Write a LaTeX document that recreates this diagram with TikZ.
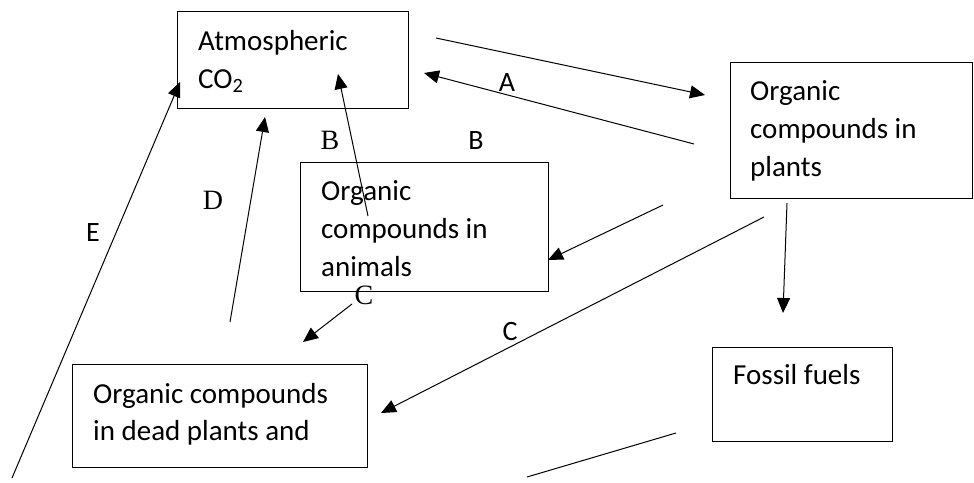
\documentclass[tikz,border=0pt]{standalone}
\usepackage{fontspec}
\setmainfont{Carlito}
\newfontfamily\seriflbl{Liberation Serif}
\usetikzlibrary{arrows.meta}
\begin{document}
\begin{tikzpicture}[x=1pt,y=-1pt,
  box/.style={draw,line width=1.1pt,inner sep=0pt,anchor=north west},
  txt/.style={anchor=base west,inner sep=0pt,font=\fontsize{29}{38}\selectfont},
  lbl/.style={inner sep=0pt,font=\fontsize{28}{30}\selectfont},
  slbl/.style={inner sep=0pt,font=\seriflbl\fontsize{28}{30}\selectfont},
  arr/.style={line width=1pt,-{Triangle[length=15pt,width=13pt]}},
  ln/.style={line width=1pt}]
\useasboundingbox (0,0) rectangle (974,482);
% boxes
\node[box,minimum width=231pt,minimum height=97pt] (atm) at (177,11) {};
\node[box,minimum width=242pt,minimum height=136pt] (plants) at (730,62) {};
\node[box,minimum width=248pt,minimum height=129pt] (animals) at (300,162) {};
\node[box,minimum width=180pt,minimum height=94pt] (fossil) at (712,347) {};
\node[box,minimum width=295pt,minimum height=103pt] (dead) at (72,364) {};
% texts
\node[txt] (atmA) at (198,50) {Atmospheric};
\node[txt] (atmB) at (198,88) {CO\textsubscript{2}};
\node[txt] (plA) at (750,100) {Organic};
\node[txt] (plB) at (750,138) {compounds in};
\node[txt] (plC) at (750,176) {plants};
\node[txt] (anA) at (321,200) {Organic};
\node[txt] (anB) at (321,238) {compounds in};
\node[txt] (anC) at (321,276) {animals};
\node[txt] (foA) at (733,384) {Fossil fuels};
\node[txt] (deA) at (93,403) {Organic compounds};
\node[txt] (deB) at (93,440) {in dead plants and};
% connector end points
\coordinate (a1s) at (436,38);  \coordinate (a1e) at (705,95);
\coordinate (a2s) at (694,144); \coordinate (a2e) at (424,73);
\coordinate (b1s) at (368,216); \coordinate (b1e) at (338,74);
\coordinate (b2s) at (663,205); \coordinate (b2e) at (548,260);
\coordinate (c1s) at (764,217); \coordinate (c1e) at (381,413);
\coordinate (c2s) at (352,304); \coordinate (c2e) at (303,342);
\coordinate (d1s) at (230,322); \coordinate (d1e) at (265,117);
\coordinate (e1s) at (12,478);  \coordinate (e1e) at (180,82);
\coordinate (f1s) at (787,203); \coordinate (f1e) at (783,313);
\coordinate (g1s) at (527,477); \coordinate (g1e) at (676,433);
% connectors
\draw[arr] (a1s) -- (a1e);
\draw[arr] (a2s) -- (a2e);
\draw[arr] (b1s) -- (b1e);
\draw[arr] (b2s) -- (b2e);
\draw[arr] (c1s) -- (c1e);
\draw[arr] (c2s) -- (c2e);
\draw[arr] (d1s) -- (d1e);
\draw[arr] (e1s) -- (e1e);
\draw[arr] (f1s) -- (f1e);
\draw[ln] (g1s) -- (g1e);
% labels
\node[lbl] (lA) at (507,83) {A};
\node[lbl] (lB) at (476,141) {B};
\node[lbl] (lC) at (510,332) {C};
\node[lbl] (lE) at (93,233) {E};
\node[slbl] (sB) at (330,140) {B};
\node[slbl] (sD) at (213,200) {D};
\node[slbl] (sC) at (364,295) {C};
\end{tikzpicture}
\end{document}
